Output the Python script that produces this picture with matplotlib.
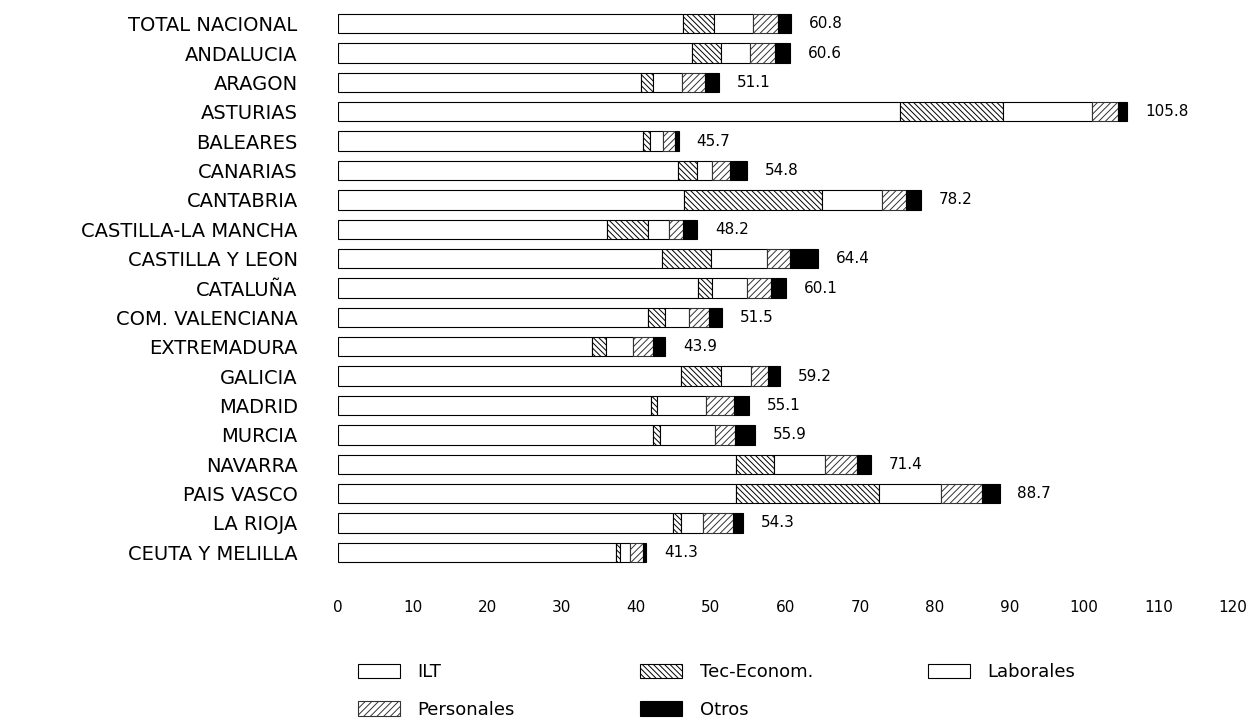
import matplotlib
matplotlib.use("Agg")
import matplotlib.pyplot as plt
import numpy as np
from matplotlib.patches import Patch

regions = ["TOTAL NACIONAL", "ANDALUCIA", "ARAGON", "ASTURIAS", "BALEARES",
           "CANARIAS", "CANTABRIA", "CASTILLA-LA MANCHA", "CASTILLA Y LEON",
           "CATALUÑA", "COM. VALENCIANA", "EXTREMADURA", "GALICIA", "MADRID",
           "MURCIA", "NAVARRA", "PAIS VASCO", "LA RIOJA", "CEUTA Y MELILLA"]

ilt = [46.3, 47.5, 40.6, 75.3, 40.9, 45.6, 46.4, 36.0, 43.4, 48.3,
       41.6, 34.1, 46.0, 42.0, 42.2, 53.4, 53.4, 44.9, 37.3]
tec = [4.1, 3.8, 1.6, 13.8, 0.9, 2.5, 18.5, 5.6, 6.6, 1.9,
       2.2, 1.8, 5.3, 0.8, 1.0, 5.1, 19.1, 1.1, 0.5]
lab = [5.2, 3.9, 3.9, 12.0, 1.8, 2.0, 8.0, 2.8, 7.5, 4.7,
       3.2, 3.7, 4.1, 6.6, 7.3, 6.8, 8.3, 2.9, 1.3]
pers = [3.4, 3.4, 3.1, 3.5, 1.6, 2.5, 3.3, 1.8, 3.1, 3.2,
        2.7, 2.7, 2.2, 3.7, 2.7, 4.3, 5.5, 4.0, 1.8]
otros = [1.8, 2.0, 1.9, 1.2, 0.5, 2.2, 2.0, 2.0, 3.8, 2.0,
         1.8, 1.6, 1.6, 2.0, 2.7, 1.8, 2.4, 1.4, 0.4]
totals = ["60.8", "60.6", "51.1", "105.8", "45.7", "54.8", "78.2", "48.2", "64.4",
          "60.1", "51.5", "43.9", "59.2", "55.1", "55.9", "71.4", "88.7", "54.3", "41.3"]

xticks = [0, 10, 20, 30, 40, 50, 60, 70, 80, 90, 100, 110, 120]
series_names = ["ILT", "Tec-Econom.", "Laborales", "Personales", "Otros"]

plt.rcParams["font.family"] = ["DejaVu Sans"]
plt.rcParams["hatch.linewidth"] = 0.7

W, H = 1253, 724
fig = plt.figure(figsize=(W / 100, H / 100), dpi=100)
left_px, right_px = 338, 1233
top_px, bot_px = 9, 567
ax = fig.add_axes([left_px / W, 1 - bot_px / H, (right_px - left_px) / W, (bot_px - top_px) / H])

y = np.arange(len(regions))
bh = 0.66
styles = [
    dict(facecolor="white", edgecolor="black", hatch=None),
    dict(facecolor="white", edgecolor="black", hatch="\\\\\\\\\\\\"),
    dict(facecolor="white", edgecolor="black", hatch=None),
    dict(facecolor="white", edgecolor="#333333", hatch="/////"),
    dict(facecolor="black", edgecolor="black", hatch=None),
]
data = [ilt, tec, lab, pers, otros]
left = np.zeros(len(regions))
for vals, st in zip(data, styles):
    vals = np.array(vals)
    ax.barh(y, vals, left=left, height=bh, linewidth=0.8, **st)
    left = left + vals

for yi, end, lbl in zip(y, left, totals):
    ax.text(end + 2.4, yi, lbl, va="center", ha="left", fontsize=11)

ax.set_xlim(0, 120)
ax.set_ylim(len(regions) - 0.5, -0.5)
ax.set_yticks(y)
ax.set_yticklabels(regions, fontsize=14)
ax.set_xticks(xticks)
ax.set_xticklabels([str(t) for t in xticks], fontsize=11)
ax.tick_params(axis="y", length=0, pad=29)
ax.tick_params(axis="x", length=0, pad=24)
for s in ax.spines.values():
    s.set_visible(False)

handles = [Patch(linewidth=0.8, **st) for st in styles]
cols = [([handles[0], handles[3]], [series_names[0], series_names[3]], 358),
        ([handles[1], handles[4]], [series_names[1], series_names[4]], 640),
        ([handles[2]], [series_names[2]], 928)]
for hs, ls, xpx in cols:
    fig.legend(hs, ls, loc="upper left", bbox_to_anchor=(xpx / W, 1 - 663 / H),
               frameon=False, fontsize=13, handlelength=2.3, handleheight=0.85,
               handletextpad=1.0, labelspacing=1.1, borderpad=0, borderaxespad=0)

fig.savefig("out.png", dpi=100)
